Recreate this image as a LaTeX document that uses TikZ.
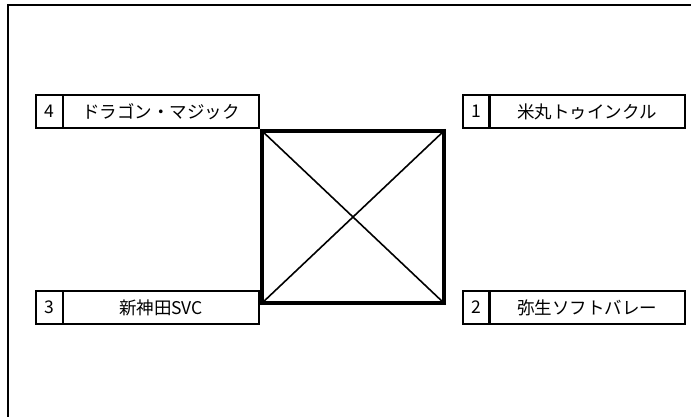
\documentclass[tikz,border=0pt]{standalone}
\usepackage{fontspec}
\newfontfamily\jp{Noto Sans CJK JP}
\begin{document}
\begin{tikzpicture}[x=1pt,y=-1pt,
  cell/.style={draw, line width=2pt, anchor=north west, minimum height=33pt, inner sep=0pt, font=\jp\fontsize{17.5}{17.5}\selectfont},
  numcell/.style={cell, minimum width=27pt},
  labcell/.style={cell, minimum width=196pt},
  frameline/.style={line width=2.8pt},
  diag/.style={line width=1.6pt}]
\useasboundingbox (0,0) rectangle (691,417);
\coordinate (ftr) at (691,5);
\coordinate (ftl) at (8,5);
\coordinate (fbl) at (8,417);
\draw[frameline] (ftr) -- (ftl) -- (fbl);
% central square
\node[draw, line width=3.2pt, minimum width=182pt, minimum height=172pt, inner sep=0pt] (sq) at (353,217) {};
\draw[diag] (sq.north west) -- (sq.south east);
\draw[diag] (sq.north east) -- (sq.south west);
% boxes
\node[numcell] (n4) at (35,94) {4};
\node[labcell] (l4) at (62,94) {ドラゴン・マジック};
\node[numcell] (n1) at (462,94) {1};
\node[labcell] (l1) at (488,94) {米丸トゥインクル};
\node[numcell] (n3) at (35,290) {3};
\node[labcell] (l3) at (62,290) {新神田SVC};
\node[numcell] (n2) at (462,290) {2};
\node[labcell] (l2) at (488,290) {弥生ソフトバレー};
\end{tikzpicture}
\end{document}
